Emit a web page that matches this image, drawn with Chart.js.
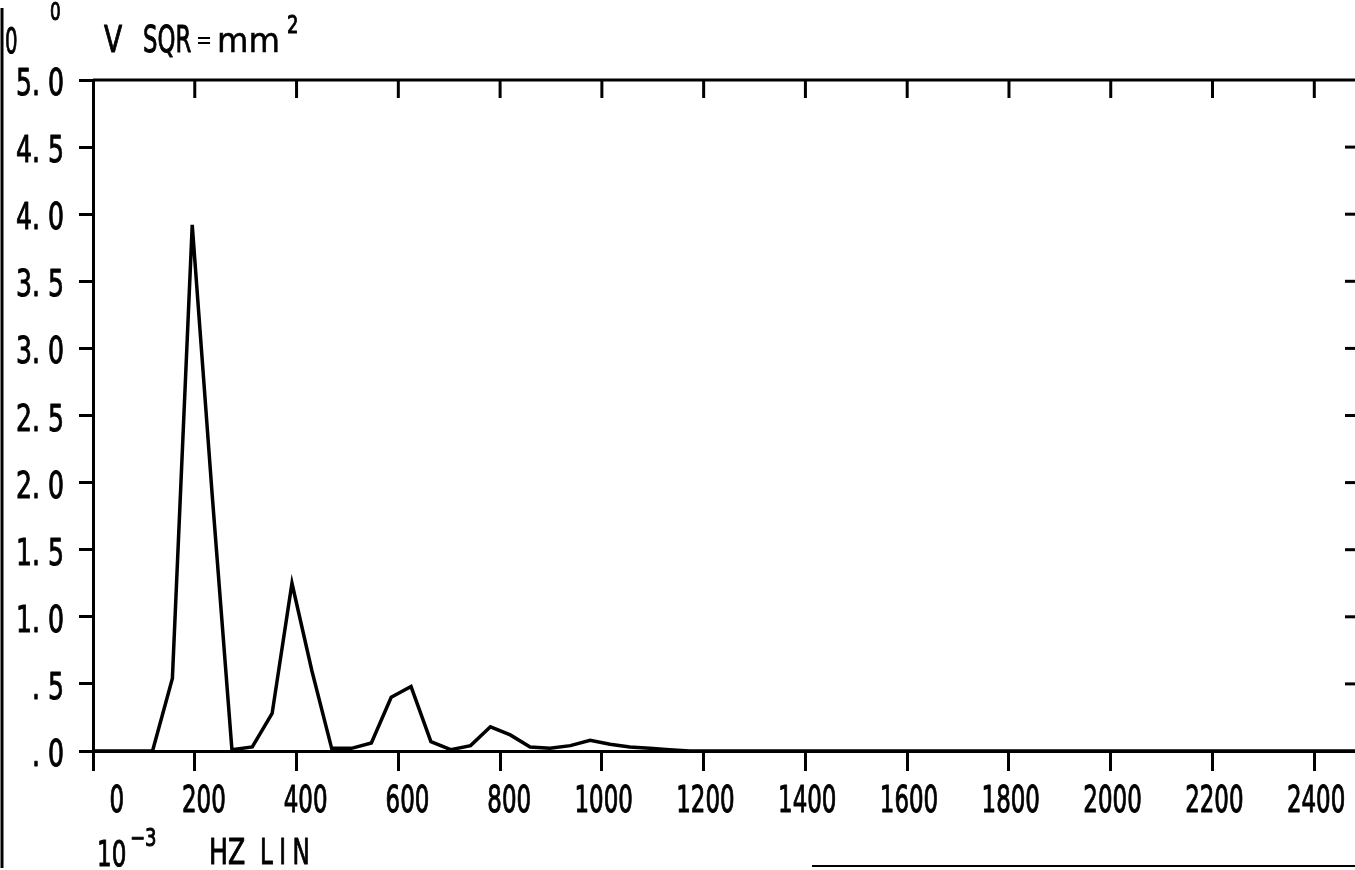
<!DOCTYPE html>
<html>
<head>
<meta charset="utf-8">
<script src="https://cdn.jsdelivr.net/npm/chart.js@4.4.1/dist/chart.umd.min.js"></script>
<style>
  html, body { margin: 0; padding: 0; background: #fff; }
  #wrap { width: 1355px; height: 870px; position: relative; }
</style>
</head>
<body>
<div id="wrap"><canvas id="chart"></canvas></div>
<script>
// spectrum samples, mHz
const freqs = [0, 39, 78, 117, 156, 195, 234, 273, 313, 352, 391, 430, 469, 508, 547, 586,
  625, 664, 703, 742, 781, 820, 859, 898, 938, 977, 1016, 1055, 1094, 1133, 1172, 2480];
// V SQR, mm^2
const power = [0, 0, 0, 0, 0.54, 3.92, 1.92, 0.01, 0.03, 0.28, 1.25, 0.60, 0.02, 0.02, 0.06, 0.40,
  0.48, 0.07, 0.01, 0.04, 0.18, 0.12, 0.03, 0.02, 0.04, 0.08, 0.05, 0.03, 0.02, 0.01, 0, 0];

const xTickValues = [0, 200, 400, 600, 800, 1000, 1200, 1400, 1600, 1800, 2000, 2200, 2400];
const yTickValues = [0, 0.5, 1, 1.5, 2, 2.5, 3, 3.5, 4, 4.5, 5];

const SANS = "'DejaVu Sans', 'Liberation Sans', sans-serif";
const INK = '#000';

const fmtY = (v) => {
  const [whole, dec] = v.toFixed(1).split('.');
  return (whole === '0' ? '' : whole) + '. ' + dec;
};

const keepTicks = (values) => (scale) => {
  scale.ticks = values.map((value) => ({ value }));
};

// plotter lettering is tall and narrow: squeeze the glyphs horizontally, pen a little heavier
const squeezed = (ctx, text, x, y, { size = 37, sx = 0.64, align = 'left', spacing = 0, pen = 1 } = {}) => {
  ctx.save();
  ctx.translate(x, y);
  ctx.scale(sx, 1);
  ctx.font = `${size}px ${SANS}`;
  ctx.letterSpacing = `${spacing}px`;
  ctx.textAlign = align;
  ctx.textBaseline = 'alphabetic';
  ctx.lineWidth = pen;
  ctx.lineJoin = 'round';
  ctx.fillText(text, 0, 0);
  if (pen > 0) ctx.strokeText(text, 0, 0);
  ctx.restore();
};

const plotterFrame = {
  id: 'plotterFrame',
  afterDraw(chart) {
    const { ctx, chartArea: a, scales: { x, y } } = chart;
    const seg = (x1, y1, x2, y2) => {
      ctx.beginPath();
      ctx.moveTo(x1, y1);
      ctx.lineTo(x2, y2);
      ctx.stroke();
    };

    ctx.save();
    ctx.strokeStyle = INK;
    ctx.fillStyle = INK;
    ctx.lineWidth = 3;

    // top frame with inward ticks
    seg(a.left, a.top, a.right, a.top);
    x.ticks.forEach((t) => {
      if (t.value === 0) return;
      const px = x.getPixelForValue(t.value);
      seg(px, a.top, px, a.top + 18);
    });

    // right edge dashes
    y.ticks.forEach((t) => {
      if (t.value === 0 || t.value === 5) return;
      const py = y.getPixelForValue(t.value);
      seg(a.right - 10, py, a.right, py);
    });

    // scan edges
    seg(2, 8, 2, 868);
    ctx.lineWidth = 2;
    seg(812, 866, chart.width, 866);

    // tick labels
    x.ticks.forEach((t) => {
      const px = x.getPixelForValue(t.value);
      squeezed(ctx, String(t.value), px + 31, a.bottom + 61, { align: 'right', sx: 0.62 });
    });
    y.ticks.forEach((t) => {
      const py = y.getPixelForValue(t.value);
      squeezed(ctx, fmtY(t.value), a.left - 29, py + 15, { align: 'right', sx: 0.68 });
    });

    // header
    squeezed(ctx, '0', 5, 53, { size: 36, sx: 0.55 });
    squeezed(ctx, '0', 50, 20, { size: 24, sx: 0.7 });
    squeezed(ctx, 'V', 104, 52, { size: 38, sx: 0.7 });
    squeezed(ctx, 'SQR', 143, 52, { size: 38, sx: 0.6 });
    squeezed(ctx, '=', 196, 48, { size: 24, sx: 0.8, pen: 0 });
    squeezed(ctx, 'mm', 217, 52, { size: 34, sx: 0.95, pen: 0.5 });
    squeezed(ctx, '2', 287, 33, { size: 24, sx: 0.75 });

    // x axis title
    squeezed(ctx, '10', 97, 866, { size: 36 });
    squeezed(ctx, '\u22123', 130, 846, { size: 24, sx: 0.75 });
    squeezed(ctx, 'HZ', 209, 864, { size: 36, sx: 0.7 });
    squeezed(ctx, 'LIN', 260, 864, { size: 36, spacing: 10 });
    ctx.restore();
  },
};

new Chart(document.getElementById('chart'), {
  type: 'line',
  data: {
    datasets: [{
      data: freqs.map((f, i) => ({ x: f, y: power[i] })),
      borderColor: INK,
      borderWidth: 3.5,
      pointRadius: 0,
      tension: 0,
      fill: false,
    }],
  },
  options: {
    responsive: true,
    maintainAspectRatio: false,
    animation: false,
    layout: { padding: { top: 80, left: 0, right: 0, bottom: 0 } },
    plugins: {
      legend: { display: false },
      tooltip: { enabled: false },
    },
    scales: {
      x: {
        type: 'linear',
        min: 0,
        max: 2480,
        afterBuildTicks: keepTicks(xTickValues),
        afterFit: (scale) => { scale.height = 119; },
        border: { display: true, color: INK, width: 3 },
        grid: { drawOnChartArea: false, color: INK, lineWidth: 3, tickLength: 20 },
        ticks: { display: false },
      },
      y: {
        type: 'linear',
        min: 0,
        max: 5,
        afterBuildTicks: keepTicks(yTickValues),
        afterFit: (scale) => { scale.width = 93; },
        border: { display: true, color: INK, width: 3 },
        grid: { drawOnChartArea: false, color: INK, lineWidth: 3, tickLength: 14 },
        ticks: { display: false },
      },
    },
  },
  plugins: [plotterFrame],
});
</script>
</body>
</html>
